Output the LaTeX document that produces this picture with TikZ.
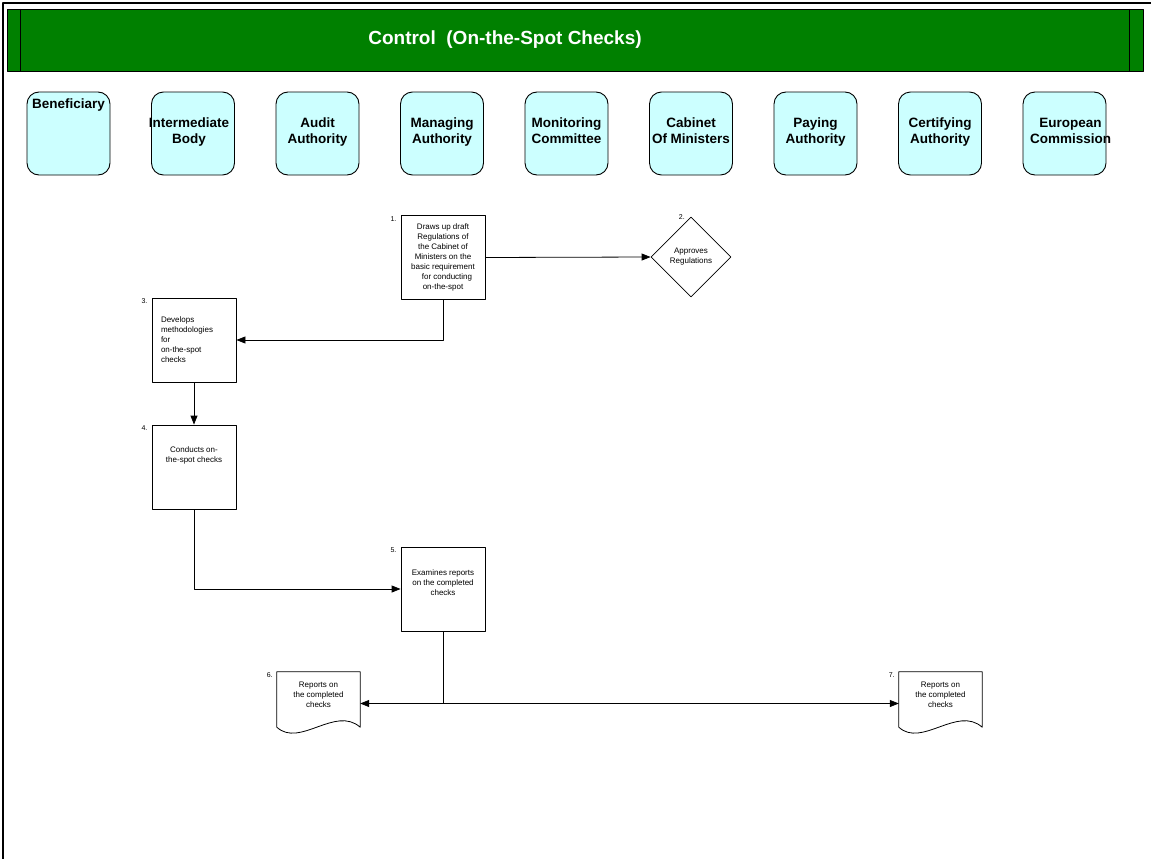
\documentclass[tikz,border=0pt]{standalone}
\usepackage{fontspec}
\setmainfont{Liberation Sans}
\usetikzlibrary{shapes.geometric,arrows.meta}
\definecolor{hdrgreen}{RGB}{0,128,0}
\definecolor{lanecyan}{RGB}{204,255,255}
\begin{document}
\begin{tikzpicture}[x=1pt,y=-1pt,>={Triangle[length=9pt,width=7pt]},line join=round,
  lane/.style={draw,fill=lanecyan,rounded corners=12pt,minimum width=83pt,minimum height=83pt,inner sep=0pt,align=center,line width=0.9pt,font=\fontsize{13.5}{16}\selectfont\bfseries,execute at begin node=\strut,execute at end node=\strut},
  task/.style={draw,minimum width=84pt,minimum height=84pt,inner sep=1pt,align=center,line width=0.8pt,font=\fontsize{8}{10}\selectfont},
  doc/.style={minimum width=83pt,minimum height=63pt,inner sep=1pt,align=center,font=\fontsize{8}{10}\selectfont},
  decide/.style={draw,diamond,minimum width=80pt,minimum height=80pt,inner sep=0pt,align=center,line width=0.8pt,font=\fontsize{8}{10}\selectfont},
  num/.style={font=\fontsize{7}{8}\selectfont,inner xsep=4pt,inner ysep=1pt},
  flow/.style={line width=0.8pt}]
\useasboundingbox (0,0) rectangle (1151,859);
% khung va tieu de
\draw[line width=1.2pt] (1151,3) -- (3,3) -- (3,859);
\draw[fill=hdrgreen,line width=0.8pt] (7,9) rectangle (1143,71);
\draw[line width=0.6pt] (20,9) -- (20,71) (1129,9) -- (1129,71);
\node[text=white,font=\fontsize{19}{21}\selectfont\bfseries] (title) at (505,40) {Control\ \ (On-the-Spot Checks)};
% cac lan
\foreach \n/\t [count=\i from 0] in {ben/{Beneficiary\\[39pt]~},ib/{\kern-8pt Intermediate\\\kern-8pt Body},aa/Audit\\Authority,ma/Managing\\Authority,mc/Monitoring\\Committee,cm/Cabinet\\Of Ministers,pa/Paying\\Authority,ca/Certifying\\Authority,ec/{European\kern-12pt\\Commission\kern-12pt}}
  \node[lane] (\n) at (68.5+124.5*\i,133.5) {\t};
% cac buoc
\node[task,label={[num,anchor=north east]north west:1.}] (b1) at (443,257.5) {Draws up draft\\Regulations of\\the Cabinet of\\Ministers on the\\basic requirement\\\hspace*{8pt}for conducting\\on-the-spot};
\node[decide,label={[num,anchor=east,inner xsep=6pt]north:2.}] (d2) at (691,257) {Approves\\Regulations};
\node[task,align=left,text width=66pt,label={[num,anchor=north east]north west:3.}] (b3) at (194,340) {Develops\\methodologies\\for\\on-the-spot\\checks};
\node[task,label={[num,anchor=north east]north west:4.}] (b4) at (194,467) {Conducts on-\\the-spot checks\\[14pt]~};
\node[task,label={[num,anchor=north east]north west:5.}] (b5) at (443,589) {Examines reports\\on the completed\\checks\\[3pt]~};
\node[doc,label={[num,anchor=north east]north west:6.}] (d6) at (318.5,703.5) {Reports on\\the completed\\checks\\[8pt]~};
\node[doc,label={[num,anchor=north east]north west:7.}] (d7) at (940.5,703.5) {Reports on\\the completed\\checks\\[8pt]~};
\foreach \d in {d6,d7}
  \draw[flow] (\d.north west) -- (\d.north east) -- ([yshift=8pt]\d.south east) .. controls +(-25,-22) and +(23,21) .. ([yshift=8pt]\d.south west) -- cycle;
% mui ten
\draw[flow,->] (b1.east) -- (d2.west);
\draw[flow,->] (b1.south) |- (b3.east);
\draw[flow,->] (b3) -- (b4);
\draw[flow,->] (b4.south) |- (b5.west);
\coordinate (split) at (b5.south |- d6.east);
\draw[flow,->] (b5.south) -- (split) -- (d6.east);
\draw[flow,->] (split) -- (d7.west);
\end{tikzpicture}
\end{document}
